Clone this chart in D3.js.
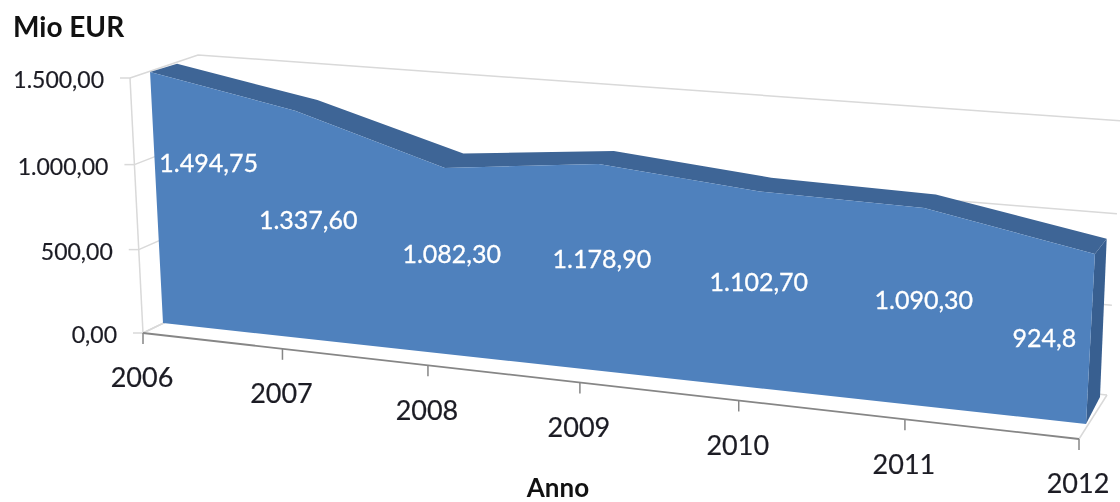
<!DOCTYPE html>
<html>
<head>
<meta charset="utf-8">
<script src="https://cdn.jsdelivr.net/npm/d3@7/dist/d3.min.js"></script>
<style>
html,body{margin:0;padding:0;background:#fff;overflow:hidden}
svg{display:block;filter:blur(0.45px)}
text{font-family:Lato,"Open Sans",sans-serif}
</style>
</head>
<body>
<svg id="chart" width="1120" height="502"></svg>
<script>
// --- data ---
const years = ["2006","2007","2008","2009","2010","2011","2012"];
const values = [1494.75,1337.60,1082.30,1178.90,1102.70,1090.30,924.8];
const valueLabels = ["1.494,75","1.337,60","1.082,30","1.178,90","1.102,70","1.090,30","924,8"];
const yTicks = [0,500,1000,1500];
const labelNudge = [[52,-36],[9,-6],[5,-8],[3,-9],[2,-8],[3,-8],[-46,-2]];

// --- scales ---
const uScale = d3.scaleLinear().domain([0, years.length-1]).range([0,1]);
const vScale = d3.scaleLinear().domain([0,1500]).range([0,1]);
const fmt = d3.formatLocale({decimal:",",thousands:".",grouping:[3],currency:["","€"]}).format(",.2f");

// perspective plane: maps (category index, value) onto a picture quad
function plane(p0,p1,p2,p3){
  const dx1=p1[0]-p2[0],dx2=p3[0]-p2[0],sx=p0[0]-p1[0]+p2[0]-p3[0];
  const dy1=p1[1]-p2[1],dy2=p3[1]-p2[1],sy=p0[1]-p1[1]+p2[1]-p3[1];
  const den=dx1*dy2-dx2*dy1;
  const g=(sx*dy2-dx2*sy)/den,h=(dx1*sy-sx*dy1)/den;
  const a=p1[0]-p0[0]+g*p1[0],b=p3[0]-p0[0]+h*p3[0],c=p0[0];
  const d=p1[1]-p0[1]+g*p1[1],e=p3[1]-p0[1]+h*p3[1],f=p0[1];
  return (i,val)=>{
    const u=uScale(i),v=vScale(val),w=g*u+h*v+1;
    return [(a*u+b*v+c)/w,(d*u+e*v+f)/w];
  };
}
const axisPlane = plane([143,333],[1079,439],[1095,150],[130,78]);
const wallPlane = plane([205,303],[1107,395],[1122,121],[198,55]);
const areaFront = plane([163,323],[1086,424],[1100.6,145],[150,71]);
const areaBack  = plane([190,293],[1100,397],[1111,137.5],[177,63]);

const svg = d3.select("#chart");
const line = d3.line();
const idx = d3.range(years.length);
const last = years.length-1;
const GRID="#D9D9D9", AXIS="#868686", INK="#1c1c24";

// gridlines: along side wall then back wall
svg.append("g").selectAll("path").data(yTicks).join("path")
  .attr("d",v=>line([axisPlane(0,v),wallPlane(0,v),wallPlane(last,v)]))
  .attr("fill","none").attr("stroke",GRID).attr("stroke-width",1.5);
// left wall vertical
svg.append("path").attr("d",line([axisPlane(0,0),axisPlane(0,1500)]))
  .attr("stroke",GRID).attr("stroke-width",1.5).attr("fill","none");
// y ticks
svg.append("g").selectAll("line").data(yTicks).join("line")
  .attr("x1",v=>axisPlane(0,v)[0]-10).attr("x2",v=>axisPlane(0,v)[0])
  .attr("y1",v=>axisPlane(0,v)[1]).attr("y2",v=>axisPlane(0,v)[1])
  .attr("stroke",GRID).attr("stroke-width",1.5);
// floor right edge
svg.append("path").attr("d",line([axisPlane(last,0),wallPlane(last,0)]))
  .attr("stroke",GRID).attr("stroke-width",1.5).attr("fill","none");
svg.append("path").attr("d",line([axisPlane(0,0),wallPlane(0,0)]))
  .attr("stroke",GRID).attr("stroke-width",1.5).attr("fill","none");
// x axis
svg.append("path").attr("d",line([axisPlane(0,0),axisPlane(last,0)]))
  .attr("stroke",AXIS).attr("stroke-width",1.8).attr("fill","none");
svg.append("g").selectAll("line").data(idx).join("line")
  .attr("x1",i=>axisPlane(i,0)[0]).attr("x2",i=>axisPlane(i,0)[0])
  .attr("y1",i=>axisPlane(i,0)[1]).attr("y2",i=>axisPlane(i,0)[1]+11)
  .attr("stroke",AXIS).attr("stroke-width",1.5);

// area: ribbon, side, front
const frontTop = idx.map(i=>areaFront(i,values[i]));
const backTop  = idx.map(i=>areaBack(i,values[i]));
svg.append("path").attr("d",line(frontTop.concat(backTop.slice().reverse()))+"Z").attr("fill","#3E6596");
svg.append("path").attr("d",line([areaFront(last,values[last]),areaBack(last,values[last]),areaBack(last,0),areaFront(last,0)])+"Z").attr("fill","#385F90");
svg.append("path").attr("d",line([areaFront(0,0)].concat(frontTop,[areaFront(last,0)]))+"Z").attr("fill","#4F81BD");

// data labels
svg.append("g").selectAll("text").data(idx).join("text")
  .attr("x",i=>areaFront(i,values[i]/2)[0]+labelNudge[i][0])
  .attr("y",i=>areaFront(i,values[i]/2)[1]+labelNudge[i][1])
  .attr("dy","0.35em").attr("text-anchor","middle")
  .attr("fill","#fff").attr("stroke","#fff").attr("stroke-width",0.3)
  .attr("font-size",25).text(i=>valueLabels[i]);

// y labels
svg.append("g").selectAll("text").data(yTicks).join("text")
  .attr("x",v=>axisPlane(0,v)[0]-26).attr("y",v=>axisPlane(0,v)[1]+2)
  .attr("dy","0.35em").attr("text-anchor","end")
  .attr("fill",INK).attr("stroke",INK).attr("stroke-width",0.2)
  .attr("font-size",23).text(v=>fmt(v));

// category labels
svg.append("g").selectAll("text").data(idx).join("text")
  .attr("x",i=>axisPlane(i,0)[0]-1).attr("y",i=>axisPlane(i,0)[1]+45)
  .attr("dy","0.35em").attr("text-anchor","middle")
  .attr("fill",INK).attr("stroke",INK).attr("stroke-width",0.2)
  .attr("font-size",27).text(i=>years[i]);

// titles
svg.append("text").attr("x",13).attr("y",27).attr("dy","0.35em")
  .attr("font-weight",700).attr("font-size",28).attr("fill","#111").text("Mio EUR");
svg.append("text").attr("x",558).attr("y",497).attr("text-anchor","middle")
  .attr("font-weight",700).attr("font-size",26).attr("fill","#111").text("Anno");
</script>
</body>
</html>
